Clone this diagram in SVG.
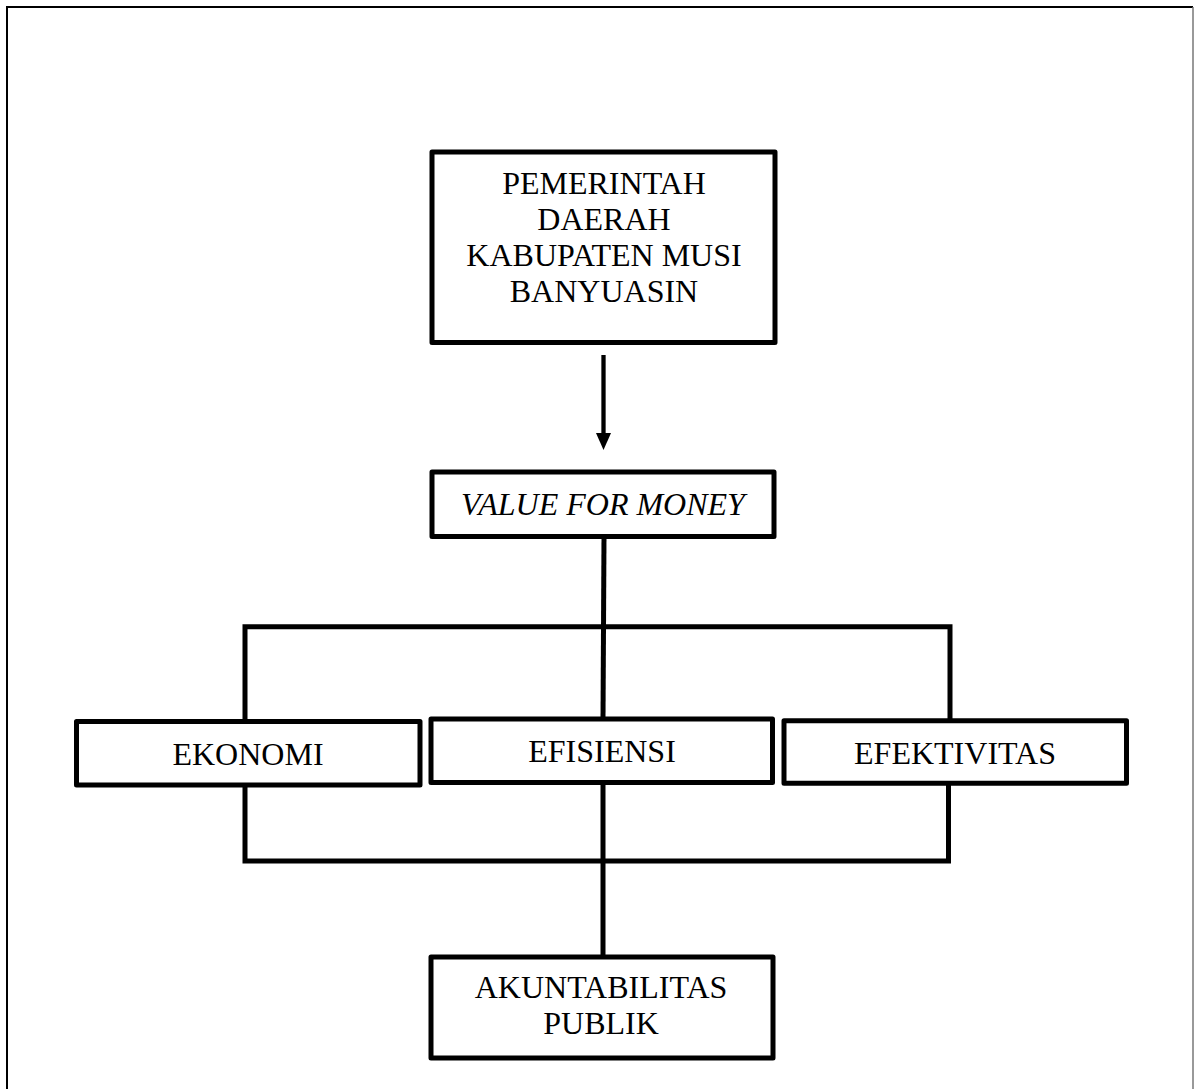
<svg xmlns="http://www.w3.org/2000/svg" width="1195" height="1089" viewBox="0 0 1195 1089">
<style>
.box{fill:#fff;stroke:#000;stroke-width:5;stroke-linejoin:round}
.ln{fill:none;stroke:#000;stroke-width:5;stroke-linejoin:miter}
.t{font-family:"Liberation Serif","Times New Roman",serif;font-size:32px;fill:#000;text-anchor:middle}
.it{font-style:italic}
</style>
<defs>
<marker id="arr" markerWidth="17" markerHeight="15" refX="8" refY="7.5" orient="auto" markerUnits="userSpaceOnUse" viewBox="0 0 17 15">
<path d="M0,0 L17,7.5 L0,15 Z" fill="#000"/>
</marker>
</defs>
<rect width="1195" height="1089" fill="#fff"/>
<g id="frame">
<path d="M7,1100 V7 H1193" fill="none" stroke="#000" stroke-width="2"/>
<path d="M1193,7 V1100" fill="none" stroke="#777" stroke-width="1.5"/>
</g>
<g id="connectors">
<line x1="603.5" y1="355" x2="603.5" y2="441" stroke="#000" stroke-width="4.3" marker-end="url(#arr)"/>
<line class="ln" x1="604" y1="537" x2="603" y2="719"/>
<polyline class="ln" points="245,721.5 245,626.7 950,626.7 950,720.7"/>
<polyline class="ln" points="245,785 245,861 948.5,861 948.5,783"/>
<line class="ln" x1="603" y1="782.5" x2="603" y2="957"/>
</g>
<g id="node-pemerintah">
<rect class="box" x="432" y="152" width="343" height="190.5"/>
<text class="t" x="604" y="194">PEMERINTAH</text>
<text class="t" x="604" y="230">DAERAH</text>
<text class="t" x="604" y="266">KABUPATEN MUSI</text>
<text class="t" x="604" y="302">BANYUASIN</text>
</g>
<g id="node-vfm">
<rect class="box" x="432" y="472" width="342" height="64.5"/>
<text class="t it" x="603" y="515">VALUE FOR MONEY</text>
</g>
<g id="node-ekonomi">
<rect class="box" x="76.5" y="721.5" width="343.5" height="63.5"/>
<text class="t" x="248" y="765">EKONOMI</text>
</g>
<g id="node-efisiensi">
<rect class="box" x="431" y="719" width="341.5" height="63.5"/>
<text class="t" x="602" y="762">EFISIENSI</text>
</g>
<g id="node-efektivitas">
<rect class="box" x="784" y="720.7" width="342.5" height="62.6"/>
<text class="t" x="955" y="763.5">EFEKTIVITAS</text>
</g>
<g id="node-akuntabilitas">
<rect class="box" x="431" y="957" width="342" height="101"/>
<text class="t" x="601" y="998">AKUNTABILITAS</text>
<text class="t" x="601" y="1034">PUBLIK</text>
</g>
</svg>
